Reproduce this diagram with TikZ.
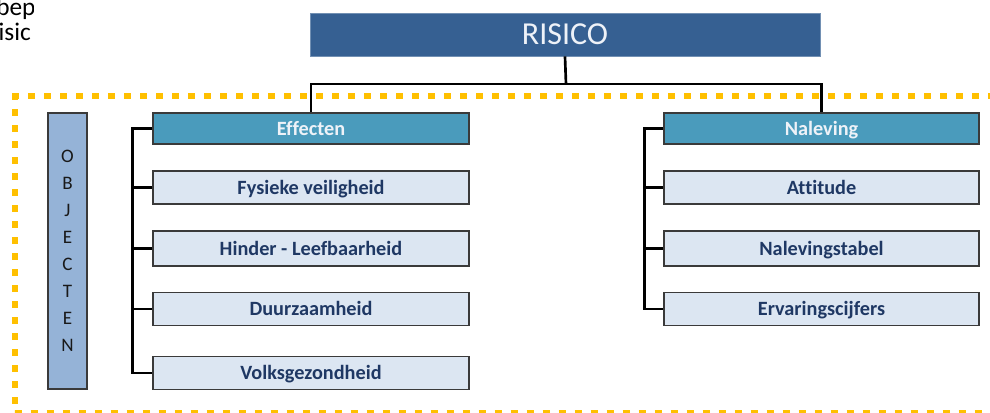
\documentclass[tikz,border=0pt]{standalone}
\usepackage{fontspec}
\setmainfont{Carlito}[Ligatures=NoCommon]
\definecolor{risicoblue}{HTML}{366092}
\definecolor{headteal}{HTML}{4A9BBC}
\definecolor{lightbox}{HTML}{DCE6F2}
\definecolor{objblue}{HTML}{95B3D7}
\definecolor{navytext}{HTML}{1F3864}
\definecolor{framegold}{HTML}{FFC000}
\definecolor{boxedge}{HTML}{3A3A3A}
\definecolor{paletext}{HTML}{EEF2F8}
\begin{document}
\begin{tikzpicture}[x=0.75pt,y=-0.75pt,
  headbox/.style={draw=boxedge, line width=1.25pt, fill=headteal, text=paletext,
    font=\bfseries\fontsize{15.2}{18}\selectfont, minimum height=23.25pt, inner sep=0pt,
    text height=9.8pt, text depth=0pt},
  itembox/.style={draw=boxedge, line width=1.25pt, fill=lightbox, text=navytext,
    font=\bfseries\fontsize{15.2}{18}\selectfont, minimum height=24.75pt, inner sep=0pt,
    text height=9.8pt, text depth=0pt},
  leftcol/.style={minimum width=237pt},
  rightcol/.style={minimum width=236.25pt},
  link/.style={draw=black, line width=2pt},
  frameline/.style={draw=framegold, line width=5pt, dash pattern=on 5.25pt off 6.75pt},
  fragtext/.style={anchor=base west, inner sep=0pt, text=black, font=\fontsize{19}{22}\selectfont},
]
\useasboundingbox (0,0) rectangle (990,412);
\clip (0,0) rectangle (990,412);

% dotted frame
\draw[frameline] (12,96) -- (1010,96);
\draw[frameline] (15,93) -- (15,413.5) -- (1010,413.5);

% cut-off page text
\begin{scope}
\clip (0,0) rectangle (33.5,60);
\node[fragtext] (frag1) at (-4,15) {bepa};
\node[fragtext] (frag2) at (-10.5,40) {risic};
\end{scope}

% top box
\node[fill=risicoblue, draw=risicoblue!70!white, line width=0.5pt,
  minimum width=382.5pt, minimum height=32.25pt, inner sep=0pt,
  text=paletext, font=\fontsize{24}{28}\selectfont] (risico) at (565,34.5) {RISICO};

% objecten
\node[draw=boxedge, line width=1.25pt, fill=objblue, minimum width=29.25pt,
  minimum height=207pt, inner sep=0pt, align=center, text=black!90,
  font=\fontsize{14.3}{20.3}\selectfont] (objecten) at (67.5,251)
  {O\\B\\J\\E\\C\\T\\E\\N};

% left column
\node[headbox, leftcol] (effecten) at (311,128.5) {Effecten};
\node[itembox, leftcol] (fysiek) at (311,187.5) {Fysieke veiligheid};
\node[itembox, leftcol, minimum height=26.25pt] (hinder) at (311,248.5) {Hinder - Leefbaarheid};
\node[itembox, leftcol] (duurzaam) at (311,309) {Duurzaamheid};
\node[itembox, leftcol] (volks) at (311,373) {Volksgezondheid};

% right column
\node[headbox, rightcol] (naleving) at (821.5,128.5) {Naleving};
\node[itembox, rightcol] (attitude) at (821.5,187.5) {Attitude};
\node[itembox, rightcol, minimum height=26.25pt] (tabel) at (821.5,248.5) {Nalevingstabel};
\node[itembox, rightcol] (ervaring) at (821.5,309) {Ervaringscijfers};

% connectors
\coordinate (hub) at (566,84);
\draw[link] (risico.south) -- (hub);
\draw[link] (effecten.north) |- (hub) -| (naleving.north);

\draw[link] (effecten.west) -- ++(-20,0) |- (volks.west);
\draw[link] (fysiek.west) -- ++(-20,0);
\draw[link] (hinder.west) -- ++(-20,0);
\draw[link] (duurzaam.west) -- ++(-20,0);

\draw[link] (naleving.west) -- ++(-19,0) |- (ervaring.west);
\draw[link] (attitude.west) -- ++(-19,0);
\draw[link] (tabel.west) -- ++(-19,0);
\end{tikzpicture}
\end{document}
